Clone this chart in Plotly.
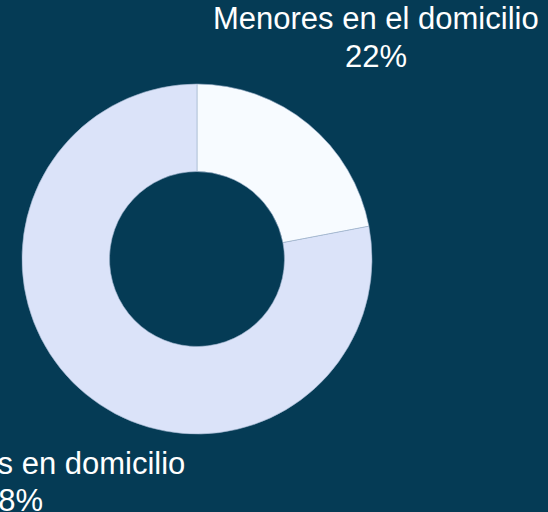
import plotly.graph_objects as go

labels = ["Menores en el domicilio", "Sin menores en domicilio"]
values = [22, 78]
colors = ["#f7fbff", "#dbe3f9"]

# label anchor positions (paper coords): name line and percent line
label_x = [0.6861, 0.0219]
name_y = [0.9629, 0.0957]
pct_y = [0.8906, 0.0234]

total = sum(values)

fig = go.Figure(go.Pie(
    labels=labels,
    values=values,
    hole=0.5,
    sort=False,
    direction="clockwise",
    rotation=0,
    textinfo="none",
    hoverinfo="label+percent",
    marker=dict(colors=colors, line=dict(color="#9fb3cc", width=0.6)),
    domain=dict(x=[0.04015, 0.6788], y=[0.1523, 0.8359]),
    showlegend=False,
))

font = dict(family="Liberation Sans, Arial, sans-serif", size=31, color="#ffffff")
for lab, v, x, ny, py in zip(labels, values, label_x, name_y, pct_y):
    fig.add_annotation(
        x=x, y=ny, xref="paper", yref="paper",
        xanchor="center", yanchor="middle",
        text=lab, showarrow=False, font=font,
    )
    fig.add_annotation(
        x=x, y=py, xref="paper", yref="paper",
        xanchor="center", yanchor="middle",
        text=f"{round(100 * v / total)}%", showarrow=False, font=font,
    )

fig.update_layout(
    width=548, height=512,
    margin=dict(l=0, r=0, t=0, b=0),
    paper_bgcolor="#053b55",
    plot_bgcolor="#053b55",
)

fig.write_html(
    "out.html",
    config={"displayModeBar": False},
    post_script="document.body.style.margin='0';document.body.style.overflow='hidden';document.body.style.background='#053b55';",
)
